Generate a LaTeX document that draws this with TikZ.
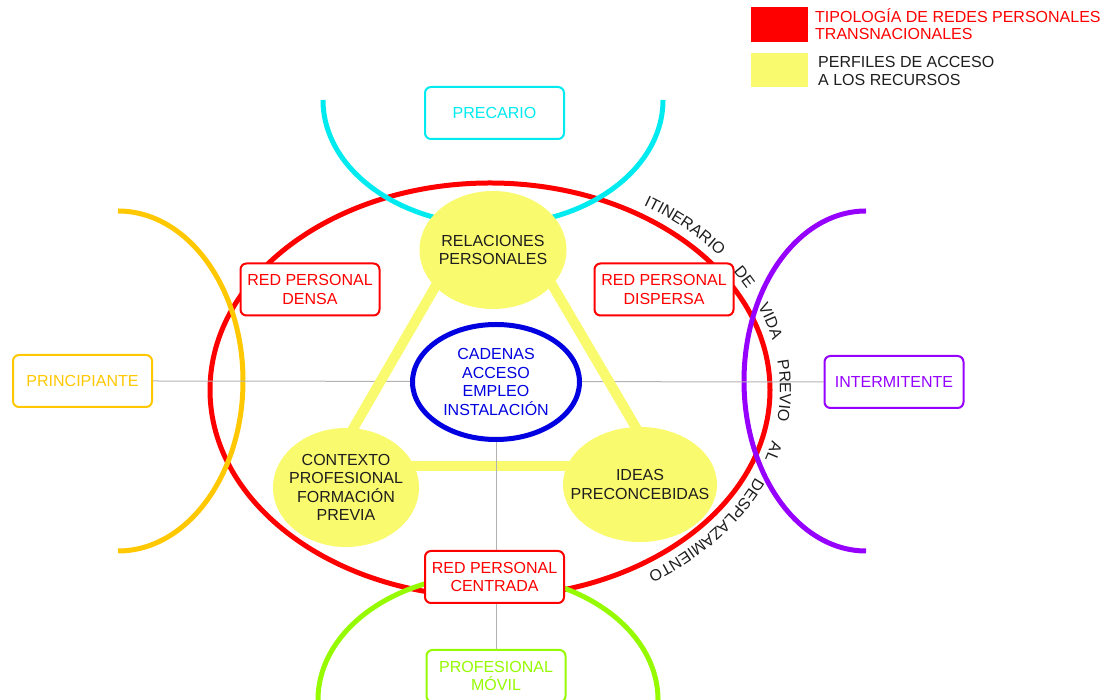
\documentclass[tikz,border=0pt]{standalone}
\usepackage{fontspec}
\setmainfont{Liberation Sans}
\usepackage{xcolor}
\usepackage{tikz}
\usetikzlibrary{shapes.geometric,decorations.text}
\definecolor{rojo}{RGB}{255,0,0}
\definecolor{cian}{RGB}{0,235,240}
\definecolor{ambar}{RGB}{255,200,0}
\definecolor{violeta}{RGB}{150,0,255}
\definecolor{lima}{RGB}{150,250,0}
\definecolor{amarillo}{RGB}{250,250,110}
\definecolor{azul}{RGB}{0,0,225}
\definecolor{tinta}{RGB}{30,30,30}
\pgfdeclarelayer{fondo}
\pgfsetlayers{fondo,main}

\begin{document}
\begin{tikzpicture}[x=1pt,y=1pt,font=\fontsize{16}{18.5}\selectfont]
\tikzstyle{caja}=[rectangle,draw,line width=2pt,rounded corners=6pt,fill=white,minimum width=139pt,minimum height=52pt,align=center,inner sep=2pt]
\tikzstyle{perfil}=[ellipse,fill=amarillo,inner xsep=-15pt,inner ysep=0pt,align=center,text=tinta]
\tikzstyle{arco}=[line width=5pt]
\tikzstyle{eje}=[black!30,line width=1pt]
\tikzstyle{barra}=[amarillo,line width=10pt]
\useasboundingbox (0,0) rectangle (1110,700);

% leyenda
\node[fill=rojo,minimum width=57pt,minimum height=35pt,inner sep=0pt] (leyrojo) at (779.5,675.5) {};
\node[fill=amarillo,minimum width=57pt,minimum height=34pt,inner sep=0pt] (leyamar) at (779.5,630) {};
\node[anchor=west,text=rojo,align=left,inner sep=0pt,font=\fontsize{16}{17}\selectfont] (leyrojotxt) at (815,675.5) {TIPOLOGÍA DE REDES PERSONALES\\TRANSNACIONALES};
\node[anchor=west,text=tinta,align=left,inner sep=0pt,font=\fontsize{16}{17.5}\selectfont] (leyamartxt) at (818,629) {PERFILES DE ACCESO\\A LOS RECURSOS};

% perfiles de acceso
\node[perfil,minimum width=147pt,minimum height=118pt] (relaciones) at (493,450) {RELACIONES\\PERSONALES};
\node[perfil,minimum width=146pt,minimum height=119pt] (contexto) at (346,212.5) {CONTEXTO\\PROFESIONAL\\FORMACIÓN\\PREVIA};
\node[perfil,minimum width=154pt,minimum height=115pt] (ideas) at (640,215.5) {IDEAS\\PRECONCEBIDAS};
\node[ellipse,draw=azul,line width=5pt,fill=white,text=azul,align=center,inner sep=0pt,minimum width=167pt,minimum height=115pt] (cadenas) at (496,318) {CADENAS\\ACCESO\\EMPLEO\\INSTALACIÓN};

% tipologias
\node[caja,draw=rojo,text=rojo] (densa) at (310,410.5) {RED PERSONAL\\DENSA};
\node[caja,draw=rojo,text=rojo] (dispersa) at (664,410.5) {RED PERSONAL\\DISPERSA};
\node[caja,draw=rojo,text=rojo] (centrada) at (494.5,123) {RED PERSONAL\\CENTRADA};

% itinerarios
\node[caja,draw=cian,text=cian] (precario) at (494.5,587) {PRECARIO};
\node[caja,draw=ambar,text=ambar] (principiante) at (82.5,319) {PRINCIPIANTE};
\node[caja,draw=violeta,text=violeta] (intermitente) at (894,318) {INTERMITENTE};
\node[caja,draw=lima,text=lima] (movil) at (496,24) {PROFESIONAL\\MÓVIL};

\coordinate (rel1) at (464,463);
\coordinate (rel2) at (524,463);
\coordinate (con1) at (335,240);
\coordinate (con2) at (346,234);
\coordinate (ide1) at (655,240);
\coordinate (ide2) at (640,234);

\begin{pgfonlayer}{fondo}
\draw[arco,rojo] (490,310) ellipse [x radius=280,y radius=207];
\draw[arco,cian] (323,600) arc[start angle=180,end angle=360,x radius=170,y radius=125];
\draw[arco,ambar] (118,489) arc[start angle=90,end angle=-90,x radius=125,y radius=170];
\draw[arco,violeta] (866,489) arc[start angle=90,end angle=270,x radius=122,y radius=170];
\draw[arco,lima] (318,0) arc[start angle=180,end angle=0,x radius=170,y radius=125];
\draw[eje] (principiante.east) -- (intermitente.west);
\draw[barra] (rel1) -- (con1);
\draw[barra] (rel2) -- (ide1);
\draw[barra] (con2) -- (ide2);
\draw[eje] (cadenas) -- (movil.north);
\end{pgfonlayer}

% itinerario de vida
\path[decorate,decoration={text along path,text color=tinta,text align={fit to path stretching spaces},
  text={|\fontsize{16}{18}\selectfont|ITINERARIO DE VIDA PREVIO AL DESPLAZAMIENTO}}]
  (490,310) ++(58:290 and 218) arc[start angle=58,end angle=-57,x radius=290,y radius=218];
\end{tikzpicture}
\end{document}
